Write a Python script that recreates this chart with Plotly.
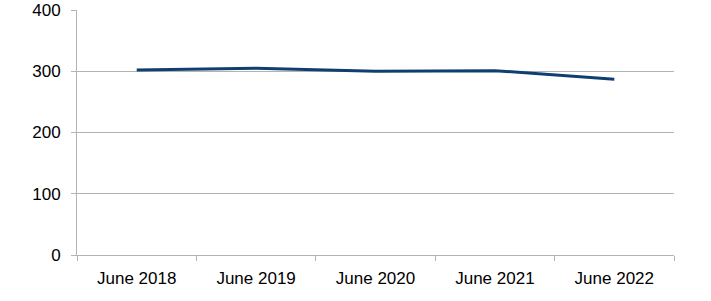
import plotly.graph_objects as go

categories = ["June 2018", "June 2019", "June 2020", "June 2021", "June 2022"]
values = [302, 305, 300, 301, 287]
y_ticks = [0, 100, 200, 300, 400]

fig = go.Figure()
fig.add_trace(go.Scatter(
    x=categories, y=values, mode="lines",
    line=dict(color="#0f3f6e", width=3),
    hoverinfo="skip", showlegend=False,
))

fig.update_layout(
    width=711, height=301,
    margin=dict(l=77, r=37, t=10, b=46),
    paper_bgcolor="white", plot_bgcolor="white",
    font=dict(family="Liberation Sans, Arial, sans-serif", size=17, color="black"),
)
fig.update_xaxes(
    type="category", range=[-0.5, 4.5], automargin=False,
    showgrid=False, showline=True, linecolor="#b3b3b3", linewidth=1,
    ticks="outside", tickson="boundaries", ticklen=5, tickcolor="#b3b3b3",
    tickfont=dict(size=17), ticklabelstandoff=8,
)
fig.update_yaxes(
    range=[0, 400], tickvals=y_ticks, automargin=False,
    showgrid=True, gridcolor="#b3b3b3", gridwidth=1,
    showline=True, linecolor="#b3b3b3", linewidth=1,
    ticks="outside", ticklen=5, tickcolor="#b3b3b3",
    tickfont=dict(size=17), zeroline=False, ticklabelstandoff=7,
)

fig.write_html("out.html")
